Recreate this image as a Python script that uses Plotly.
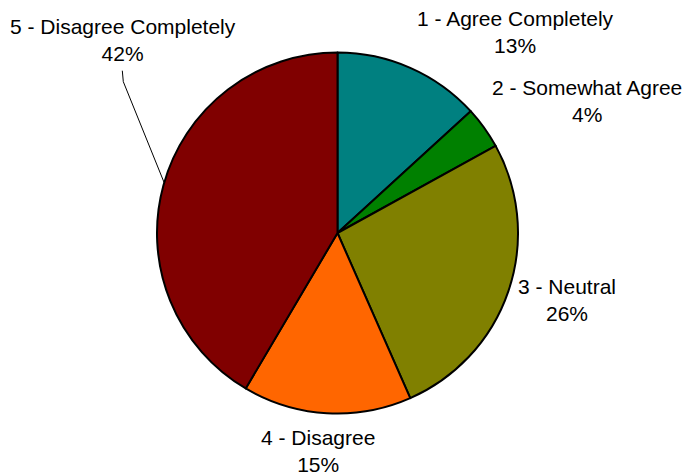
import plotly.graph_objects as go

# Data (response counts)
categories = ["1 - Agree Completely", "2 - Somewhat Agree", "3 - Neutral",
              "4 - Disagree", "5 - Disagree Completely"]
values = [7, 2, 14, 8, 22]
colors = ["#008080", "#008000", "#808000", "#FF6600", "#800000"]

W, H = 686, 474

# Label placement (pixel centers of the two-line text blocks)
label_pos = [(515.8, 32), (587.2, 101), (566.7, 300.3), (317.8, 451), (122.5, 39.5)]

fig = go.Figure(go.Pie(
    labels=categories,
    values=values,
    sort=False,
    direction="clockwise",
    rotation=0,
    marker=dict(colors=colors, line=dict(color="black", width=2)),
    textinfo="none",
    hoverinfo="label+percent",
    showlegend=False,
    domain=dict(x=[157 / W, 518 / W], y=[1 - 413.5 / H, 1 - 52.5 / H]),
))

total = sum(values)
annotations = []
for cat, v, (px, py) in zip(categories, values, label_pos):
    annotations.append(dict(
        x=px / W, y=1 - py / H, xref="paper", yref="paper",
        xanchor="center", yanchor="middle", showarrow=False,
        text=f"{cat}<br>{round(100 * v / total)}%",
        font=dict(family="Liberation Sans, Arial, sans-serif", size=21, color="black"),
        align="center",
    ))

# leader line for label 5
pts = [(122.3, 70.7), (123.3, 81.7), (164.5, 183.5)]
path = "M " + " L ".join(f"{x / W},{1 - y / H}" for x, y in pts)
fig.add_shape(type="path", path=path, xref="paper", yref="paper",
              line=dict(color="black", width=1))

fig.update_layout(
    width=W, height=H,
    margin=dict(l=0, r=0, t=0, b=0),
    paper_bgcolor="white", plot_bgcolor="white",
    annotations=annotations,
)

fig.write_html("out.html",
               config={"displayModeBar": False},
               post_script="document.body.style.margin='0';document.body.style.overflow='hidden';")
